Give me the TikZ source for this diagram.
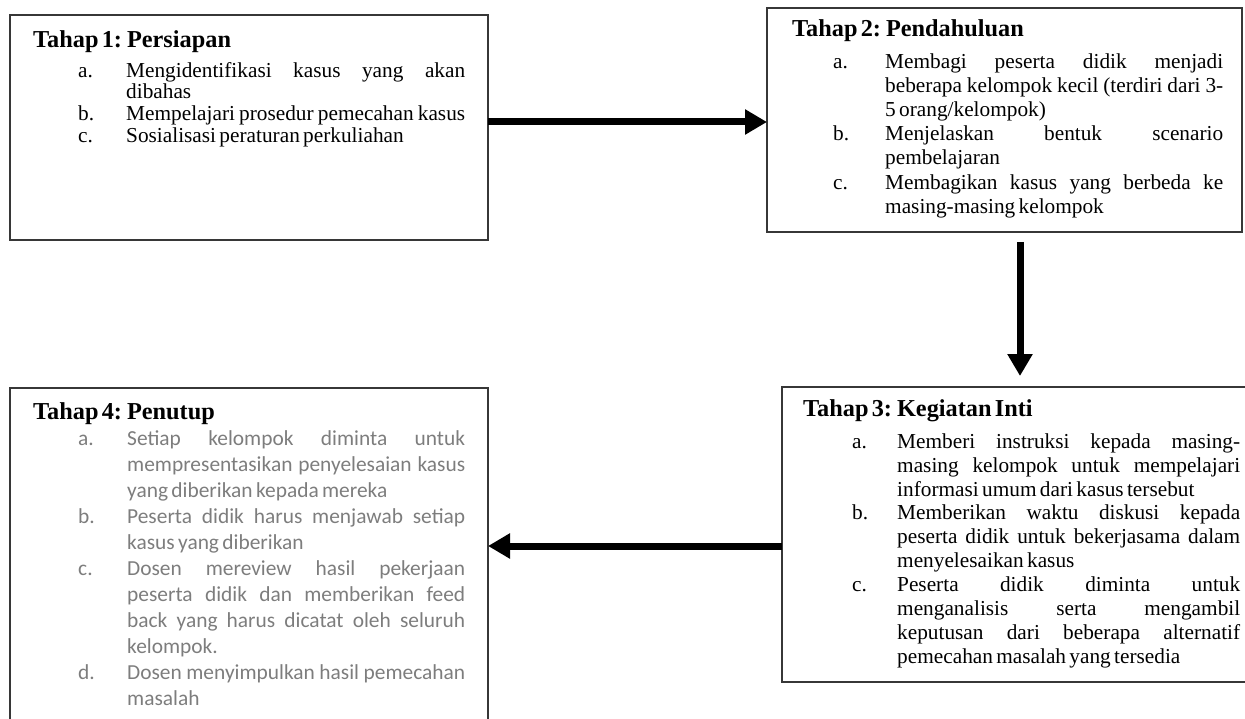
\documentclass[tikz,border=0pt]{standalone}
\usepackage{fontspec}
\setmainfont{Liberation Serif}
\newfontfamily\calib{Carlito}
\usetikzlibrary{arrows.meta}
\definecolor{boxline}{RGB}{55,55,55}
\definecolor{graytext}{RGB}{125,125,125}
\newlength{\lblx}\newlength{\lblw}\newlength{\txtw}
\newcommand{\jline}[2]{\noindent\hspace*{\lblx}\hbox to \lblw{#1\hss}\hbox to \txtw{\spaceskip=0.25em plus 2em minus 0.14em\relax #2}\par}
\newcommand{\lline}[2]{\noindent\hspace*{\lblx}\hbox to \lblw{#1\hss}\hbox to \txtw{#2\hss}\par}
\newcommand{\ttl}[1]{\noindent{\fontsize{24.3}{25}\selectfont\bfseries\rule{0pt}{18pt}#1}\par}
\newcommand{\setup}[3]{\setlength{\lblx}{#1pt}\setlength{\lblw}{#2pt}\setlength{\txtw}{#3pt}\parskip=0pt\lineskiplimit=-100pt\lineskip=0pt}
\begin{document}
\begin{tikzpicture}[x=1pt,y=-1pt,
  box/.style={draw=boxline, line width=1.7pt, anchor=north west, inner sep=0pt, outer sep=0pt},
  txt/.style={anchor=north west, inner sep=0pt, text width=480pt},
  arr/.style={line width=7pt, -{Triangle[length=22pt,width=24pt]}}]
\useasboundingbox (0,0) rectangle (1245,719);
% boxes
\node[box, minimum width=478pt, minimum height=225pt] (b1) at (10,15) {};
\node[box, minimum width=475pt, minimum height=224pt] (b2) at (767,8) {};
\node[box, minimum width=470pt, minimum height=295pt] (b3) at (782,387) {};
\node[box, minimum width=478pt, minimum height=340pt] (b4) at (10,388) {};
% texts
\node[txt] (t1) at (33,29) {\setup{45}{48}{339}%
\ttl{Tahap 1: Persiapan}%
\fontsize{21.3}{21.7}\selectfont\vspace*{8.3pt}%
\jline{a.}{Mengidentifikasi kasus yang akan}
\lline{}{dibahas}
\jline{b.}{Mempelajari prosedur pemecahan kasus}
\lline{c.}{Sosialisasi peraturan perkuliahan}};
\node[txt] (t2) at (792,18) {\setup{41}{52}{338}%
\ttl{Tahap 2: Pendahuluan}%
\fontsize{21.3}{24.2}\selectfont\vspace*{7.8pt}%
\jline{a.}{Membagi peserta didik menjadi}
\jline{}{beberapa kelompok kecil (terdiri dari 3-}
\lline{}{5 orang/kelompok)}
\jline{b.}{Menjelaskan bentuk scenario}
\lline{}{pembelajaran}
\jline{c.}{Membagikan kasus yang berbeda ke}
\lline{}{masing-masing kelompok}};
\node[txt] (t3) at (803,398) {\setup{49}{45}{343}%
\ttl{Tahap 3: Kegiatan Inti}%
\fontsize{21.3}{23.9}\selectfont\vspace*{8.1pt}%
\jline{a.}{Memberi instruksi kepada masing-}
\jline{}{masing kelompok untuk mempelajari}
\lline{}{informasi umum dari kasus tersebut}
\jline{b.}{Memberikan waktu diskusi kepada}
\jline{}{peserta didik untuk bekerjasama dalam}
\lline{}{menyelesaikan kasus}
\jline{c.}{Peserta didik diminta untuk}
\jline{}{menganalisis serta mengambil}
\jline{}{keputusan dari beberapa alternatif}
\lline{}{pemecahan masalah yang tersedia}};
\node[txt] (t4) at (33,401) {\setup{45}{49}{338}%
\ttl{Tahap 4: Penutup}%
\calib\fontsize{21.4}{26}\selectfont\color{graytext}\vspace*{0pt}%
\jline{a.}{Setiap kelompok diminta untuk}
\jline{}{mempresentasikan penyelesaian kasus}
\lline{}{yang diberikan kepada mereka}
\jline{b.}{Peserta didik harus menjawab setiap}
\lline{}{kasus yang diberikan}
\jline{c.}{Dosen mereview hasil pekerjaan}
\jline{}{peserta didik dan memberikan feed}
\jline{}{back yang harus dicatat oleh seluruh}
\lline{}{kelompok.}
\jline{d.}{Dosen menyimpulkan hasil pemecahan}
\lline{}{masalah}};
% arrows
\coordinate (h1) at (0,122);
\coordinate (vx) at (1020,0);
\coordinate (h3) at (0,546);
\draw[arr] (b1.east |- h1) -- (b2.west |- h1);
\draw[arr] ([yshift=-10pt]b2.south -| vx) -- ([yshift=11pt]b3.north -| vx);
\draw[arr] (b3.west |- h3) -- (b4.east |- h3);
\end{tikzpicture}
\end{document}
